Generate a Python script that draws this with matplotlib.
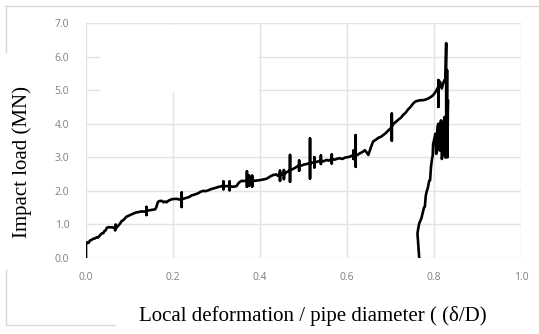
import matplotlib
matplotlib.use("Agg")
import matplotlib.pyplot as plt
from matplotlib.lines import Line2D
from matplotlib.patches import Rectangle

# loading branch (repeated x = vertical spike)
load_x = [
    0.000, 0.000, 0.003, 0.006, 0.009, 0.013, 0.016, 0.020, 0.025, 0.028,
    0.031, 0.034, 0.036, 0.040, 0.042, 0.045, 0.048, 0.052, 0.056, 0.060,
    0.063, 0.067, 0.067, 0.068, 0.070, 0.072, 0.075, 0.078, 0.080, 0.082,
    0.086, 0.090, 0.093, 0.098, 0.105, 0.110, 0.116, 0.122, 0.128, 0.133,
    0.139, 0.139, 0.139, 0.139, 0.145, 0.150, 0.155, 0.159, 0.162, 0.164,
    0.166, 0.170, 0.175, 0.178, 0.182, 0.185, 0.190, 0.197, 0.203, 0.210,
    0.215, 0.220, 0.220, 0.220, 0.220, 0.225, 0.232, 0.238, 0.242, 0.247,
    0.252, 0.258, 0.263, 0.270, 0.275, 0.282, 0.287, 0.293, 0.298, 0.305,
    0.310, 0.316, 0.316, 0.316, 0.316, 0.320, 0.325, 0.330, 0.330, 0.330,
    0.330, 0.336, 0.341, 0.346, 0.349, 0.352, 0.358, 0.362, 0.366, 0.370,
    0.370, 0.370, 0.370, 0.375, 0.375, 0.375, 0.375, 0.382, 0.382, 0.382,
    0.382, 0.388, 0.395, 0.400, 0.407, 0.415, 0.420, 0.425, 0.430, 0.437,
    0.441, 0.446, 0.446, 0.446, 0.446, 0.450, 0.455, 0.455, 0.455, 0.455,
    0.460, 0.465, 0.469, 0.469, 0.469, 0.469, 0.474, 0.480, 0.485, 0.490,
    0.490, 0.490, 0.490, 0.495, 0.500, 0.507, 0.515, 0.515, 0.515, 0.515,
    0.520, 0.525, 0.525, 0.525, 0.525, 0.532, 0.540, 0.540, 0.540, 0.540,
    0.546, 0.553, 0.558, 0.565, 0.565, 0.565, 0.565, 0.572, 0.578, 0.584,
    0.590, 0.595, 0.600, 0.607, 0.615, 0.615, 0.615, 0.615, 0.620, 0.620,
    0.620, 0.620, 0.625, 0.630, 0.636, 0.641, 0.645, 0.649, 0.652, 0.655,
    0.660, 0.666, 0.672, 0.678, 0.683, 0.689, 0.695, 0.700, 0.703, 0.703,
    0.703, 0.703, 0.707, 0.712, 0.718, 0.724, 0.729, 0.735, 0.740, 0.746,
    0.752, 0.757, 0.762, 0.768, 0.775, 0.781, 0.788, 0.793, 0.798, 0.802,
    0.805, 0.810, 0.810, 0.810, 0.810, 0.814, 0.818, 0.821, 0.824,
]
load_y = [
    0.00, 0.40, 0.47, 0.45, 0.52, 0.54, 0.57, 0.58, 0.62, 0.61,
    0.66, 0.70, 0.73, 0.74, 0.80, 0.82, 0.90, 0.92, 0.91, 0.92,
    0.90, 0.91, 0.82, 1.00, 0.90, 0.93, 0.98, 1.02, 1.06, 1.10,
    1.13, 1.19, 1.23, 1.26, 1.30, 1.33, 1.36, 1.37, 1.39, 1.38,
    1.40, 1.28, 1.52, 1.40, 1.42, 1.43, 1.44, 1.45, 1.52, 1.62,
    1.68, 1.70, 1.70, 1.66, 1.68, 1.66, 1.71, 1.75, 1.76, 1.76,
    1.74, 1.75, 1.52, 1.95, 1.75, 1.77, 1.80, 1.82, 1.86, 1.88,
    1.90, 1.93, 1.97, 2.00, 1.99, 2.02, 2.05, 2.07, 2.09, 2.12,
    2.13, 2.17, 2.05, 2.28, 2.17, 2.14, 2.14, 2.15, 2.02, 2.28,
    2.15, 2.12, 2.13, 2.14, 2.20, 2.25, 2.30, 2.29, 2.30, 2.32,
    2.12, 2.58, 2.32, 2.30, 2.15, 2.45, 2.30, 2.31, 2.13, 2.45,
    2.31, 2.30, 2.31, 2.32, 2.34, 2.36, 2.40, 2.44, 2.47, 2.49,
    2.45, 2.52, 2.30, 2.60, 2.52, 2.50, 2.48, 2.35, 2.62, 2.48,
    2.55, 2.58, 2.62, 2.27, 3.07, 2.62, 2.64, 2.68, 2.72, 2.77,
    2.60, 2.90, 2.77, 2.75, 2.78, 2.80, 2.82, 2.37, 3.56, 2.82,
    2.84, 2.85, 2.70, 3.00, 2.85, 2.87, 2.90, 2.80, 3.05, 2.90,
    2.88, 2.92, 2.90, 2.95, 2.82, 3.08, 2.95, 2.93, 2.96, 2.97,
    2.95, 2.99, 3.00, 3.02, 3.07, 2.95, 3.20, 3.07, 3.05, 2.72,
    3.66, 3.05, 3.08, 3.12, 3.16, 3.21, 3.15, 3.07, 3.18, 3.30,
    3.47, 3.52, 3.58, 3.61, 3.66, 3.72, 3.80, 3.86, 3.92, 3.50,
    4.30, 3.92, 4.00, 4.05, 4.12, 4.18, 4.26, 4.33, 4.42, 4.50,
    4.60, 4.66, 4.68, 4.70, 4.70, 4.72, 4.76, 4.80, 4.85, 4.92,
    4.98, 5.10, 4.50, 5.30, 5.10, 5.25, 5.05, 5.20, 5.30,
]

# chatter around the peak load
peak_x = [
    0.826, 0.828, 0.828, 0.830, 0.831, 0.832, 0.829, 0.826, 0.824, 0.822,
    0.820, 0.818, 0.816, 0.815, 0.813, 0.811, 0.810, 0.808, 0.806, 0.805,
    0.803, 0.800,
]
peak_y = [
    5.25, 6.40, 3.00, 5.60, 3.00, 4.70, 3.40, 3.00, 4.20, 4.00,
    3.10, 2.95, 4.10, 3.80, 3.20, 3.30, 4.00, 3.90, 3.40, 3.10,
    3.70, 3.50,
]

# unloading branch
unload_x = [
    0.798, 0.797, 0.795, 0.793, 0.791, 0.789, 0.786, 0.783, 0.781, 0.779,
    0.777, 0.775, 0.772, 0.770, 0.766, 0.764, 0.762, 0.763, 0.764, 0.765,
    0.766,
]
unload_y = [
    3.40, 3.05, 2.92, 2.70, 2.32, 2.30, 2.10, 1.97, 1.85, 1.53,
    1.50, 1.40, 1.23, 1.15, 1.03, 0.90, 0.73, 0.55, 0.34, 0.15,
    0.00,
]

x_ticks = [0.0, 0.2, 0.4, 0.6, 0.8, 1.0]
y_ticks = [0.0, 1.0, 2.0, 3.0, 4.0, 5.0, 6.0, 7.0]

GRID = "#e3e3e3"
TICK = "#7f7f7f"
FRAME = "#d9d9d9"

fig = plt.figure(figsize=(5.39, 3.34), dpi=100)
ax = fig.add_axes([86 / 539, 1 - 258 / 334, 435 / 539, 235 / 334])

xs = load_x + peak_x + unload_x
ys = load_y + peak_y + unload_y
ax.plot(xs, ys, color="black", lw=1.9, zorder=3)

ax.set_xlim(0, 1.0)
ax.set_ylim(0, 7.0)
ax.set_xticks(x_ticks)
ax.set_yticks(y_ticks)
ax.set_xticklabels([f"{v:.1f}" for v in x_ticks])
ax.set_yticklabels([f"{v:.1f}" for v in y_ticks])
ax.tick_params(length=0, labelsize=7.5, labelcolor=TICK, pad=10)
for lab in ax.get_xticklabels() + ax.get_yticklabels():
    lab.set_family("Open Sans")
ax.tick_params(axis="y", pad=12)
ax.grid(True, color=GRID, lw=1.0, zorder=0)
ax.set_axisbelow(True)
for s in ax.spines.values():
    s.set_visible(False)

# blank patch over part of the upper-left grid, as in the source image
ax.add_patch(Rectangle((0.032, 4.94), 0.366, 1.99, facecolor="white",
                       edgecolor="none", zorder=1))

fig.text(313 / 539, 1 - 316 / 334, "Local deformation / pipe diameter ( (\u03b4/D)",
         family="Liberation Serif", fontsize=15, ha="center", va="center")
fig.text(22 / 539, 1 - 162 / 334, "Impact load (MN)",
         family="Liberation Serif", fontsize=15, rotation=90,
         ha="center", va="center")

# partial outer chart border
px = lambda v: v / 539
py = lambda v: 1 - v / 334
for bx, by in [((5, 539), (6, 6)), ((6, 6), (6, 52)),
               ((6, 6), (270, 325)), ((6, 115), (325, 325))]:
    fig.add_artist(Line2D([px(a) for a in bx], [py(b) for b in by],
                          color=FRAME, lw=1.0))

fig.savefig("out.png", dpi=100)
